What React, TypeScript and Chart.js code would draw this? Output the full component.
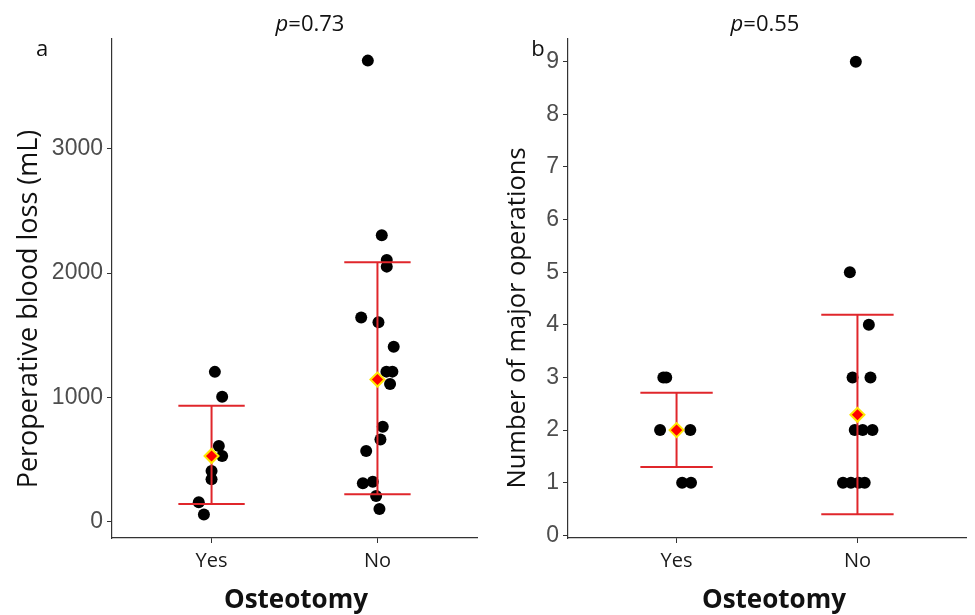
import React, { useEffect, useRef } from 'react';
import { Chart, registerables } from 'chart.js';

Chart.register(...registerables);

// ---------- data ----------
const categories = ['Yes', 'No'];

// Panel a: peroperative blood loss (mL)
const bloodYes = [1205, 1005, 608, 528, 407, 341, 155, 58];
const bloodYesJitter = [0.02, 0.064, 0.044, 0.064, 0, 0, -0.077, -0.046];
const bloodNo = [3710, 2305, 2106, 2052, 1642, 1604, 1408, 1207, 1207, 1108, 764, 660, 568, 308, 321, 206, 101];
const bloodNoJitter = [-0.058, 0.026, 0.056, 0.056, -0.098, 0.006, 0.098, 0.054, 0.09, 0.076, 0.032, 0.018, -0.068, -0.088, -0.028, -0.008, 0.012];
const bloodMean = [528, 1143];
const bloodLower = [141, 221];
const bloodUpper = [933, 2087];
const bloodTicks = [0, 1000, 2000, 3000];

// Panel b: number of major operations
const opsYes = [3, 3, 2, 2, 1, 1];
const opsYesJitter = [-0.073, -0.057, -0.091, 0.076, 0.031, 0.08];
const opsNo = [9, 5, 4, 3, 3, 2, 2, 2, 1, 1, 1, 1];
const opsNoJitter = [-0.009, -0.042, 0.063, -0.027, 0.072, -0.015, 0.029, 0.083, -0.08, -0.036, 0.007, 0.04];
const opsMean = [2.0, 2.29];
const opsLower = [1.3, 0.4];
const opsUpper = [2.71, 4.19];
const opsTicks = [0, 1, 2, 3, 4, 5, 6, 7, 8, 9];

// ---------- styling ----------
const RED = '#e0262b';
const AXIS = '#333333';
const TICK_FONT = { family: '"Liberation Sans", Arial, sans-serif', size: 23 };
const CAT_FONT = { family: '"Open Sans", sans-serif', size: 20 };
const CAP = 0.2;

type PanelSpec = {
  width: number;
  height: number;
  axisWidth: number;
  rightPad: number;
  yMin: number;
  yMax: number;
  yTicks: number[];
  groups: { values: number[]; jitter: number[] }[];
  mean: number[];
  lower: number[];
  upper: number[];
};

function segment(a: { x: number; y: number }, b: { x: number; y: number }) {
  return {
    type: 'scatter' as const,
    data: [a, b],
    showLine: true,
    borderColor: RED,
    borderWidth: 2,
    pointRadius: 0,
    pointHoverRadius: 0,
    order: 1,
  };
}

function buildConfig(p: PanelSpec): any {
  const datasets: any[] = [];
  // summary diamonds (drawn on top)
  datasets.push({
    type: 'scatter',
    data: p.mean.map((m, i) => ({ x: i + 1, y: m })),
    pointStyle: 'rectRot',
    pointRadius: 7,
    pointHoverRadius: 7,
    backgroundColor: '#ff0000',
    borderColor: '#ffe600',
    borderWidth: 2,
    order: 0,
  });
  // error bars
  p.mean.forEach((_, i) => {
    const g = i + 1;
    datasets.push(segment({ x: g, y: p.lower[i] }, { x: g, y: p.upper[i] }));
    datasets.push(segment({ x: g - CAP, y: p.upper[i] }, { x: g + CAP, y: p.upper[i] }));
    datasets.push(segment({ x: g - CAP, y: p.lower[i] }, { x: g + CAP, y: p.lower[i] }));
  });
  // raw points
  p.groups.forEach((grp, i) => {
    datasets.push({
      type: 'scatter',
      data: grp.values.map((v, k) => ({ x: i + 1 + grp.jitter[k], y: v })),
      pointRadius: 6,
      pointHoverRadius: 6,
      backgroundColor: '#000000',
      borderWidth: 0,
      order: 2,
    });
  });

  return {
    type: 'scatter',
    data: { datasets },
    options: {
      responsive: false,
      animation: false,
      events: [],
      layout: { padding: { top: 39, right: p.rightPad, left: 0, bottom: 0 } },
      plugins: { legend: { display: false }, tooltip: { enabled: false }, title: { display: false } },
      scales: {
        x: {
          type: 'linear',
          min: 0.4,
          max: 2.6,
          afterBuildTicks: (s: any) => {
            s.ticks = categories.map((_, i) => ({ value: i + 1 }));
          },
          afterFit: (s: any) => {
            s.height = 77;
          },
          ticks: {
            callback: (v: any) => categories[Math.round(Number(v)) - 1] ?? '',
            font: CAT_FONT,
            color: '#1a1a1a',
            padding: 6,
            autoSkip: false,
            maxRotation: 0,
          },
          grid: { drawOnChartArea: false, tickLength: 5, color: AXIS, lineWidth: 1 },
          border: { color: AXIS, width: 1.2 },
        },
        y: {
          type: 'linear',
          min: p.yMin,
          max: p.yMax,
          afterBuildTicks: (s: any) => {
            s.ticks = p.yTicks.map((v) => ({ value: v }));
          },
          afterFit: (s: any) => {
            s.width = p.axisWidth;
          },
          ticks: {
            font: TICK_FONT,
            color: '#4d4d4d',
            padding: 4,
            autoSkip: false,
            callback: (v: any) => String(v),
          },
          grid: { drawOnChartArea: false, tickLength: 5, color: AXIS, lineWidth: 1 },
          border: { color: AXIS, width: 1.2 },
        },
      },
    },
  };
}

function ChartCanvas({ spec, left }: { spec: PanelSpec; left: number }) {
  const ref = useRef<HTMLCanvasElement | null>(null);
  useEffect(() => {
    if (!ref.current) return;
    const chart = new Chart(ref.current, buildConfig(spec));
    return () => chart.destroy();
  }, []);
  return (
    <canvas
      ref={ref}
      width={spec.width}
      height={spec.height}
      style={{ position: 'absolute', left, top: 0, width: spec.width, height: spec.height }}
    />
  );
}

const textBase: React.CSSProperties = {
  position: 'absolute',
  whiteSpace: 'nowrap',
  fontFamily: '"Open Sans", sans-serif',
  color: '#111',
  lineHeight: 1,
};

function Label({ x, y, size, bold, rotate, children }: any) {
  return (
    <div
      style={{
        ...textBase,
        left: x,
        top: y,
        fontSize: size,
        fontWeight: bold ? 700 : 400,
        transform: rotate ? 'translate(-50%, -50%) rotate(-90deg)' : 'translate(-50%, -50%)',
      }}
    >
      {children}
    </div>
  );
}

const panelA: PanelSpec = {
  width: 487,
  height: 615,
  axisWidth: 112,
  rightPad: 10,
  yMin: -132,
  yMax: 3884,
  yTicks: bloodTicks,
  groups: [
    { values: bloodYes, jitter: bloodYesJitter },
    { values: bloodNo, jitter: bloodNoJitter },
  ],
  mean: bloodMean,
  lower: bloodLower,
  upper: bloodUpper,
};

const panelB: PanelSpec = {
  width: 495,
  height: 615,
  axisWidth: 88,
  rightPad: 2,
  yMin: -0.05,
  yMax: 9.43,
  yTicks: opsTicks,
  groups: [
    { values: opsYes, jitter: opsYesJitter },
    { values: opsNo, jitter: opsNoJitter },
  ],
  mean: opsMean,
  lower: opsLower,
  upper: opsUpper,
};

export default function App() {
  return (
    <div style={{ position: 'absolute', left: 0, top: 0, width: 975, height: 615, background: '#fff', overflow: 'hidden' }}>
      <ChartCanvas spec={panelA} left={0} />
      <ChartCanvas spec={panelB} left={480} />

      <Label x={310} y={22} size={22}>
        <i>p</i>=0.73
      </Label>
      <Label x={765} y={22} size={22}>
        <i>p</i>=0.55
      </Label>
      <Label x={42} y={47} size={22}>
        a
      </Label>
      <Label x={538} y={47} size={22}>
        b
      </Label>
      <Label x={26} y={309} size={27} rotate>
        Peroperative blood loss (mL)
      </Label>
      <Label x={516} y={318} size={25.5} rotate>
        Number of major operations
      </Label>
      <Label x={296} y={598} size={26} bold>
        Osteotomy
      </Label>
      <Label x={774} y={598} size={26} bold>
        Osteotomy
      </Label>
    </div>
  );
}
